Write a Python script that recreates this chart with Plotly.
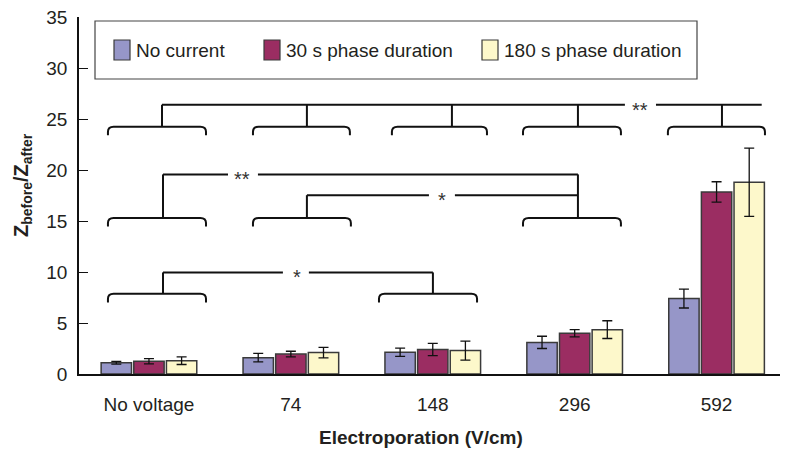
import plotly.graph_objects as go

# ---------------- data ----------------
categories = ["No voltage", "74", "148", "296", "592"]
series_names = ["No current", "30 s phase duration", "180 s phase duration"]
no_current = [1.1, 1.6, 2.13, 3.1, 7.4]
no_current_err = [0.13, 0.42, 0.4, 0.6, 0.93]
phase_30s = [1.25, 1.95, 2.4, 4.0, 17.85]
phase_30s_err = [0.25, 0.28, 0.6, 0.36, 1.0]
phase_180s = [1.3, 2.1, 2.3, 4.35, 18.8]
phase_180s_err = [0.37, 0.52, 0.93, 0.87, 3.35]
y_ticks = [0, 5, 10, 15, 20, 25, 30, 35]

# ---------------- styles ----------------
colors = ["#9696c8", "#9b2d62", "#fdf8cb"]
FONT = "Liberation Sans, Arial, sans-serif"
TXT = "#231f20"
LINE = "#111111"

x_idx = list(range(len(categories)))
values = [no_current, phase_30s, phase_180s]
errors = [no_current_err, phase_30s_err, phase_180s_err]

fig = go.Figure()
for name, vals, errs, col in zip(series_names, values, errors, colors):
    fig.add_trace(go.Bar(
        x=x_idx, y=vals, name=name,
        marker=dict(color=col, line=dict(color="#3a3a3a", width=1.5)),
        error_y=dict(type="data", array=errs, visible=True,
                     color=LINE, thickness=1.3, width=5),
        showlegend=False,
    ))

# plot area in page pixels
L, R, T, B = 79, 780, 17, 374
W, H = 798, 463

def px_x(p):
    return (p - L) / (R - L)

def px_y(p):
    return (B - p) / (B - T)

shapes = []

def seg(x0, y0, x1, y1):
    shapes.append(dict(type="line", xref="x", yref="y", x0=x0, y0=y0, x1=x1, y1=y1,
                       line=dict(color=LINE, width=2)))

def bracket(xl, xr, y, depth=0.85, rx=0.04, ry=0.5):
    path = (f"M {xl},{y-depth} L {xl},{y-ry} Q {xl},{y} {xl+rx},{y} "
            f"L {xr-rx},{y} Q {xr},{y} {xr},{y-ry} L {xr},{y-depth}")
    shapes.append(dict(type="path", xref="x", yref="y", path=path,
                       line=dict(color=LINE, width=2)))

annotations = []

def star(x, y, s):
    annotations.append(dict(x=x, y=y, xref="x", yref="y", text=s, showarrow=False,
                            xanchor="center", yanchor="middle",
                            font=dict(family=FONT, size=20, color="#333333"),
                            yshift=-5))

# ---- top row: all groups vs 592 ----
top_b, top_l = 24.25, 26.4
top_spans = [(-0.289, 0.402), (0.733, 1.416), (1.712, 2.382), (2.636, 3.326), (3.657, 4.341)]
top_stems = [0.092, 1.113, 2.135, 3.023, 4.038]
for (a, b) in top_spans:
    bracket(a, b, top_b)
for s in top_stems:
    seg(s, top_b, s, top_l)
seg(0.092, top_l, 3.354, top_l)
seg(3.573, top_l, 4.318, top_l)
star(3.46, top_l, "**")

# ---- middle row ----
mid_b = 15.3
for (a, b) in [(-0.289, 0.402), (0.733, 1.423), (2.636, 3.326)]:
    bracket(a, b, mid_b)
y_dd, y_d = 19.57, 17.53
seg(0.099, mid_b, 0.099, y_dd)
seg(0.099, y_dd, 0.557, y_dd)
seg(0.768, y_dd, 3.023, y_dd)
seg(3.023, mid_b, 3.023, y_dd)
star(0.655, y_dd, "**")
seg(1.113, mid_b, 1.113, y_d)
seg(1.113, y_d, 1.973, y_d)
seg(2.156, y_d, 3.023, y_d)
star(2.065, y_d, "*")

# ---- bottom row ----
bot_b, bot_l = 7.87, 9.96
for (a, b) in [(-0.289, 0.402), (1.621, 2.312)]:
    bracket(a, b, bot_b)
seg(0.099, bot_b, 0.099, bot_l)
seg(2.001, bot_b, 2.001, bot_l)
seg(0.099, bot_l, 0.944, bot_l)
seg(1.127, bot_l, 2.001, bot_l)
star(1.043, bot_l, "*")

# ---- legend (custom box) ----
shapes.append(dict(type="rect", xref="paper", yref="paper",
                   x0=px_x(95), x1=px_x(697), y0=px_y(79), y1=px_y(21),
                   line=dict(color="#444444", width=1.2), fillcolor="white"))
sw_x = [114, 264, 482]
for name, col, sx in zip(series_names, colors, sw_x):
    shapes.append(dict(type="rect", xref="paper", yref="paper",
                       x0=px_x(sx), x1=px_x(sx + 16), y0=px_y(60), y1=px_y(40),
                       line=dict(color="#3a3a3a", width=1.2), fillcolor=col))
    annotations.append(dict(x=px_x(sx + 20), y=px_y(50), xref="paper", yref="paper",
                            text=name, showarrow=False, xanchor="left", yanchor="middle",
                            font=dict(family=FONT, size=19, color=TXT)))

# ---- axis titles ----
annotations.append(dict(x=px_x(421), y=px_y(437), xref="paper", yref="paper",
                        text="<b>Electroporation (V/cm)</b>", showarrow=False,
                        xanchor="center", yanchor="middle",
                        font=dict(family=FONT, size=19, color=TXT)))
annotations.append(dict(x=px_x(22), y=px_y(185), xref="paper", yref="paper",
                        text="<b>Z</b><sub><b>before</b></sub><b>/Z</b><sub><b>after</b></sub>",
                        showarrow=False, textangle=-90, xanchor="center", yanchor="middle",
                        font=dict(family=FONT, size=20, color=TXT)))

fig.update_layout(
    width=W, height=H,
    margin=dict(l=L, r=W - R, t=T, b=H - B, autoexpand=False),
    paper_bgcolor="white", plot_bgcolor="white",
    barmode="group", bargap=0.31, bargroupgap=0.07,
    shapes=shapes, annotations=annotations,
    font=dict(family=FONT, color=TXT),
)
fig.update_xaxes(range=[-0.493, 4.447], tickvals=x_idx, ticktext=categories,
                 showline=True, linecolor=LINE, linewidth=1.5, ticks="",
                 showgrid=False, zeroline=False, automargin=False, ticklabelstandoff=12,
                 tickfont=dict(family=FONT, size=19, color=TXT))
fig.update_yaxes(range=[0, 35], tickvals=y_ticks, showline=True, linecolor=LINE,
                 linewidth=1.5, ticks="inside", ticklen=9, tickwidth=1.3, tickcolor=LINE,
                 showgrid=False, zeroline=False, ticklabelstandoff=6, automargin=False,
                 tickfont=dict(family=FONT, size=19, color=TXT))

fig.write_html("out.html", config={"displayModeBar": False},
               post_script="document.body.style.margin='0px';document.body.style.overflow='hidden';")
